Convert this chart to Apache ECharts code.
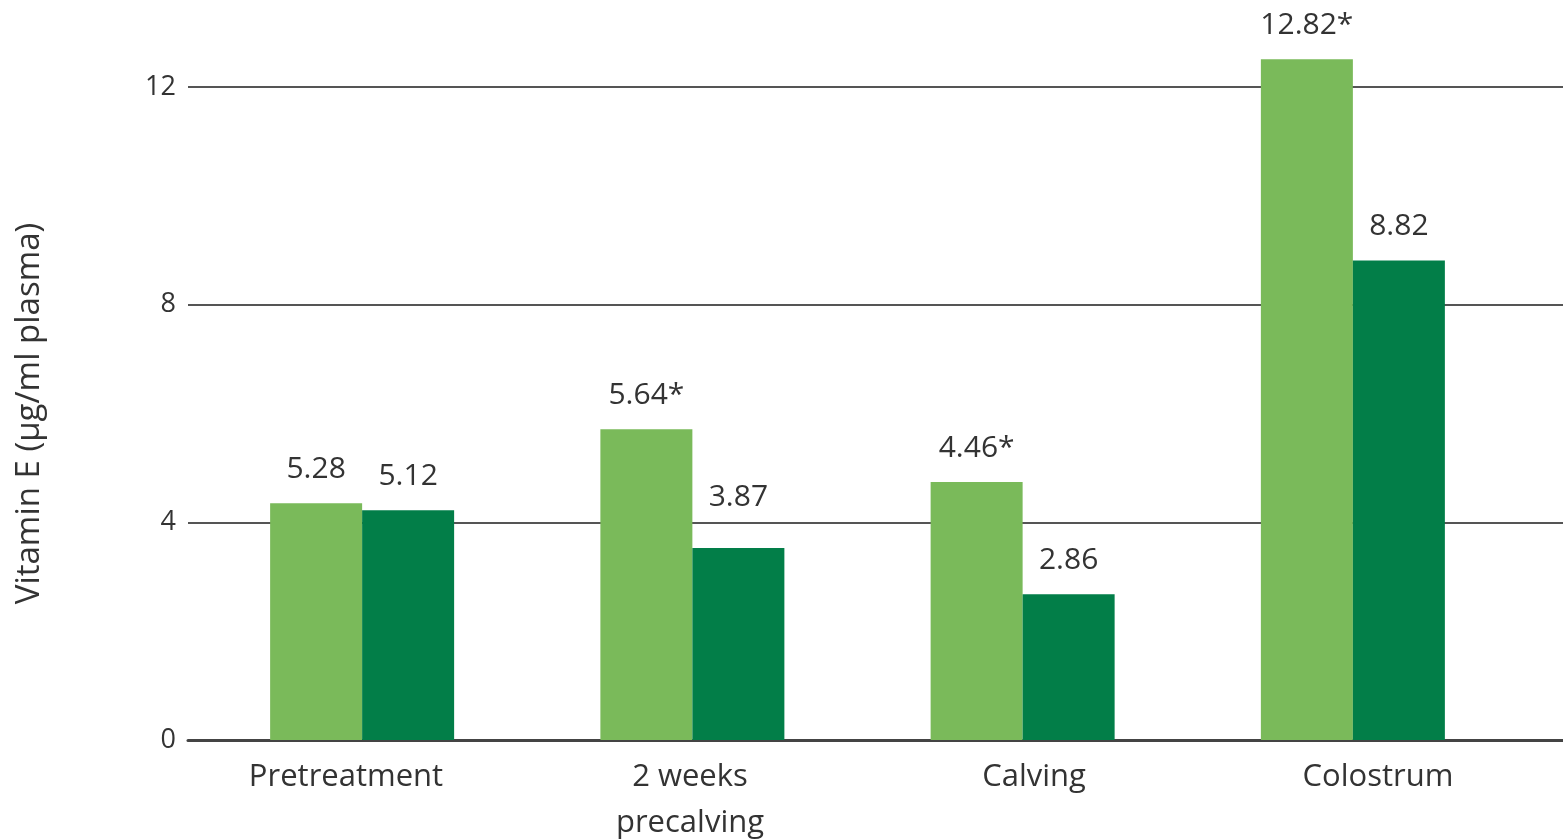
<!DOCTYPE html>
<html>
<head>
<meta charset="utf-8">
<title>Vitamin E</title>
<script src="https://cdn.jsdelivr.net/npm/echarts@6/dist/echarts.min.js"></script>
<style>
  html, body { margin: 0; padding: 0; background: #fff; }
  #chart { width: 1563px; height: 840px; }
</style>
</head>
<body>
<div id="chart"></div>
<script>
// categories and values
var categories = ['Pretreatment', '2 weeks\nprecalving', 'Calving', 'Colostrum'];
var lightValues = [4.35, 5.71, 4.74, 12.51];   // bar heights as drawn
var darkValues = [4.22, 3.53, 2.68, 8.81];
var lightLabels = ['5.28', '5.64*', '4.46*', '12.82*'];  // printed labels
var darkLabels = ['5.12', '3.87', '2.86', '8.82'];
var yTicks = [0, 4, 8, 12];

var font = 'Open Sans';
var textColor = '#333';

var chart = echarts.init(document.getElementById('chart'));

function makeData(values, labels, extra) {
    return values.map(function (v, i) {
        return {
            value: v,
            label: { formatter: labels[i], distance: (extra && extra[i]) || 19 }
        };
    });
}

var option = {
    animation: false,
    grid: [
        // horizontal lines, a bit wider than the bars
        { left: 188, right: 0, top: 87, bottom: 100, outerBoundsMode: 'none' },
        // bars
        { left: 197, right: 45, top: 87, bottom: 100, outerBoundsMode: 'none' },
        // category labels sit on a slightly wider spacing than the bars
        { left: 174, right: 13, top: 87, bottom: 100, outerBoundsMode: 'none' }
    ],
    xAxis: [
        {
            gridIndex: 0, type: 'value', min: 0, max: 1,
            axisLine: { show: true, lineStyle: { color: '#444', width: 3 } },
            axisTick: { show: false }, axisLabel: { show: false }, splitLine: { show: false }
        },
        {
            gridIndex: 1, type: 'category', data: categories,
            axisLine: { show: false }, axisTick: { show: false }, axisLabel: { show: false }
        },
        {
            gridIndex: 2, type: 'category', data: categories,
            axisLine: { show: false }, axisTick: { show: false },
            axisLabel: {
                fontFamily: font, fontSize: 31, color: textColor,
                margin: 14, lineHeight: 46
            }
        }
    ],
    yAxis: [
        {
            gridIndex: 0, type: 'value', min: yTicks[0], max: yTicks[yTicks.length - 1], interval: 4,
            name: 'Vitamin E (µg/ml plasma)',
            nameLocation: 'middle', nameGap: 142,
            nameTextStyle: { fontFamily: font, fontSize: 33, color: textColor },
            axisLine: { show: false }, axisTick: { show: false },
            axisLabel: { fontFamily: font, fontSize: 27, color: textColor, margin: 12 },
            splitLine: { lineStyle: { color: '#555', width: 2 } }
        },
        { gridIndex: 1, type: 'value', min: 0, max: 12, show: false },
        { gridIndex: 2, type: 'value', min: 0, max: 12, show: false }
    ],
    series: [
        {
            type: 'bar', xAxisIndex: 1, yAxisIndex: 1,
            data: makeData(lightValues, lightLabels),
            barWidth: 92, barGap: 0, clip: false,
            itemStyle: { color: '#7aba5a' },
            label: { show: true, position: 'top', fontFamily: font, fontSize: 30, color: textColor }
        },
        {
            type: 'bar', xAxisIndex: 1, yAxisIndex: 1,
            data: makeData(darkValues, darkLabels, [0, 35, 0, 0]),
            barWidth: 92, barGap: 0, clip: false,
            itemStyle: { color: '#027e48' },
            label: { show: true, position: 'top', fontFamily: font, fontSize: 30, color: textColor }
        }
    ]
};

chart.setOption(option);
</script>
</body>
</html>
